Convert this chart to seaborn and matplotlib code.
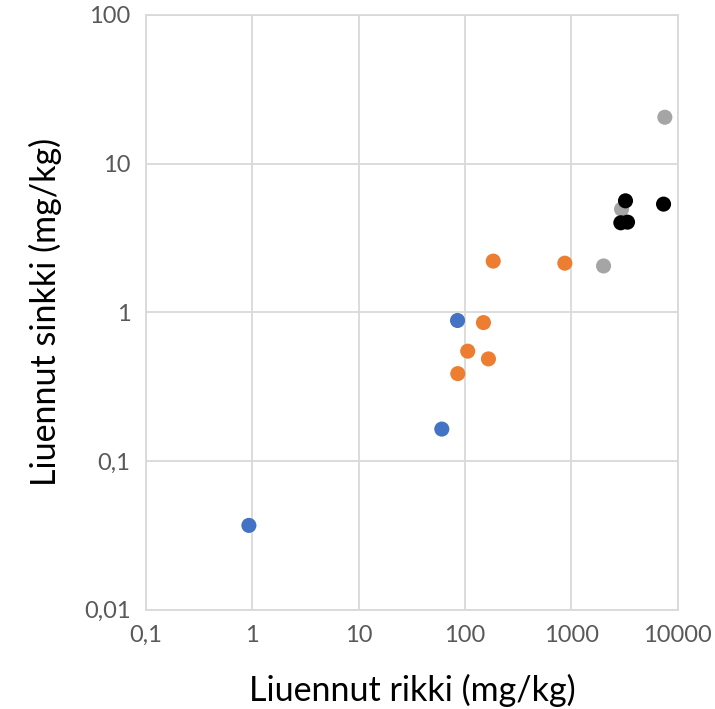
import pandas as pd
import matplotlib
matplotlib.use("Agg")
import matplotlib.pyplot as plt
import seaborn as sns

# data (log-log scatter)
blue_x = [0.93, 60.5, 85]
blue_y = [0.0369, 0.164, 0.881]
orange_x = [184, 867, 149, 106, 166, 85.5]
orange_y = [2.21, 2.14, 0.853, 0.548, 0.486, 0.387]
grey_x = [7550, 2958, 2004]
grey_y = [20.5, 4.94, 2.05]
black_x = [3222, 7342, 2913, 3367]
black_y = [5.62, 5.34, 4.0, 4.04]

x_ticks = [0.1, 1, 10, 100, 1000, 10000]
x_labels = ["0,1", "1", "10", "100", "1000", "10000"]
y_ticks = [0.01, 0.1, 1, 10, 100]
y_labels = ["0,01", "0,1", "1", "10", "100"]

groups = ["a", "b", "c", "d"]
colors = ["#4472C4", "#ED7D31", "#A5A5A5", "#000000"]

df = pd.DataFrame({
    "x": blue_x + orange_x + grey_x + black_x,
    "y": blue_y + orange_y + grey_y + black_y,
    "g": ["a"] * len(blue_x) + ["b"] * len(orange_x) + ["c"] * len(grey_x) + ["d"] * len(black_x),
})

sns.set_theme(style="white")
plt.rcParams["font.family"] = ["Lato", "DejaVu Sans"]

fig = plt.figure(figsize=(7.15, 7.09), dpi=100)
ax = fig.add_axes([0.204, 0.140, 0.744, 0.839])

sns.scatterplot(data=df, x="x", y="y", hue="g", hue_order=groups, palette=colors,
                s=118, linewidth=0, legend=False, ax=ax, zorder=3)

ax.set_xscale("log")
ax.set_yscale("log")
ax.set_xlim(0.1, 10000)
ax.set_ylim(0.01, 100)
ax.set_xticks(x_ticks)
ax.set_xticklabels(x_labels)
ax.set_yticks(y_ticks)
ax.set_yticklabels(y_labels)
ax.minorticks_off()

ax.grid(True, color="#D9D9D9", linewidth=1.3)
ax.set_axisbelow(True)
for sp in ax.spines.values():
    sp.set_color("#D9D9D9")
    sp.set_linewidth(1.3)
ax.tick_params(length=0, labelsize=17, labelcolor="#595959", pad=11)

ax.set_xlabel("Liuennut rikki (mg/kg)", fontsize=24.5, color="black", labelpad=20)
ax.set_ylabel("Liuennut sinkki (mg/kg)", fontsize=24.5, color="black", labelpad=16)

fig.savefig("out.png", dpi=100)
